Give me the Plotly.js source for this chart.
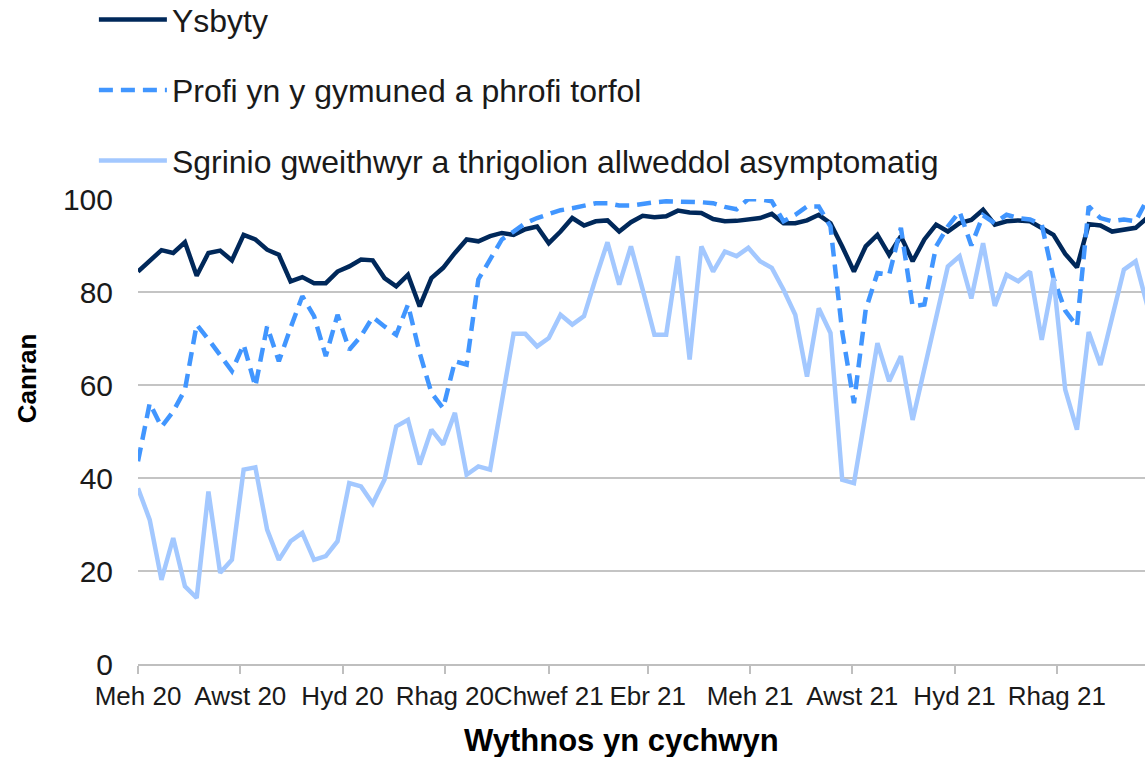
<!DOCTYPE html>
<html><head><meta charset="utf-8">
<script src="https://cdn.plot.ly/plotly-3.0.1.min.js"></script>
<style>html,body{margin:0;padding:0;background:#fff}#chart{width:1145px;height:757px}</style>
</head><body><div id="chart"></div>
<script>
const weeks = [
'2020-06-01','2020-06-08','2020-06-15','2020-06-22','2020-06-29','2020-07-06','2020-07-13','2020-07-20','2020-07-27',
'2020-08-03','2020-08-10','2020-08-17','2020-08-24','2020-08-31','2020-09-07','2020-09-14','2020-09-21','2020-09-28',
'2020-10-05','2020-10-12','2020-10-19','2020-10-26','2020-11-02','2020-11-09','2020-11-16','2020-11-23','2020-11-30',
'2020-12-07','2020-12-14','2020-12-21','2020-12-28','2021-01-04','2021-01-11','2021-01-18','2021-01-25',
'2021-02-01','2021-02-08','2021-02-15','2021-02-22','2021-03-01','2021-03-08','2021-03-15','2021-03-22','2021-03-29',
'2021-04-05','2021-04-12','2021-04-19','2021-04-26','2021-05-03','2021-05-10','2021-05-17','2021-05-24','2021-05-31',
'2021-06-07','2021-06-14','2021-06-21','2021-06-28','2021-07-05','2021-07-12','2021-07-19','2021-07-26',
'2021-08-02','2021-08-09','2021-08-16','2021-08-23','2021-08-30','2021-09-06','2021-09-13','2021-09-20','2021-09-27',
'2021-10-04','2021-10-11','2021-10-18','2021-10-25','2021-11-01','2021-11-08','2021-11-15','2021-11-22','2021-11-29',
'2021-12-06','2021-12-13','2021-12-20','2021-12-27','2022-01-03','2022-01-10','2022-01-17','2022-01-24'];

const tickDates = ['2020-06-01','2020-08-01','2020-10-01','2020-12-01','2021-02-01','2021-04-01','2021-06-01','2021-08-01','2021-10-01','2021-12-01'];
const tickLabels = ['Meh 20','Awst 20','Hyd 20','Rhag 20','Chwef 21','Ebr 21','Meh 21','Awst 21','Hyd 21','Rhag 21'];

const seriesNames = ['Ysbyty','Profi yn y gymuned a phrofi torfol','Sgrinio gweithwyr a thrigolion allweddol asymptomatig'];
const xTitle = 'Wythnos yn cychwyn';
const yTitle = 'Canran';

const ysbyty = [
84.4,86.8,89,88.4,90.7,83.5,88.4,88.9,86.8,92.3,91.3,89.1,88,82.3,83.2,81.9,81.9,84.4,85.5,87,
86.8,83,81.2,83.7,76.9,83,85.2,88.4,91.3,90.9,92,92.7,92.3,93.5,94.1,90.5,93,95.9,94.3,95.2,
95.4,93,95,96.4,96.1,96.3,97.5,97.1,97,95.7,95.2,95.3,95.7,95.9,96.8,94.8,94.8,95.4,96.6,94.8,
89.8,84.4,89.8,92.3,88,92,86.6,91.3,94.5,93,94.8,95.5,97.7,94.5,95.2,95.4,95.2,93.8,92.3,88.2,
85.3,94.6,94.3,93,93.3,93.8,96];

const profi = [
43.6,56.1,51,54.3,59,73,69.8,66.2,63,68.7,59.7,72.6,65.1,72.3,79.1,74.8,66.2,75.1,67.6,70.5,
74.6,72.6,70.8,77.3,66.9,58.3,55,65.1,64.4,82.7,87,91.3,93,94.8,95.9,96.8,97.6,98,98.6,99.1,
99.1,98.6,98.6,99,99.3,99.5,99.5,99.3,99.3,99.1,98.3,97.8,100,99.9,99.5,95.2,96.6,98.4,98.4,94.1,
71.4,56.1,76.2,84.1,83.7,93.8,76.9,77.3,89.8,94.1,97.3,90,96.5,94.8,96.6,95.9,95.6,94.5,83,76,
72.6,98.4,95.9,95.2,95.6,95.2,100];

const sgrinio = [
37.8,31,18.1,27.1,16.7,14.2,37.1,19.6,22.4,41.8,42.3,28.9,22.4,26.4,28.2,22.4,23.2,26.4,38.9,38.2,
34.5,39.6,51.1,52.5,42.9,50.4,47.2,54,40.7,42.5,41.8,56,71,71,68.3,70.1,75.1,73,74.8,83,
90.7,81.6,89.8,80.5,70.8,70.8,87.7,65.5,89.8,84.4,88.7,87.7,89.5,86.6,85.2,80.5,75.1,61.8,76.5,71.2,
39.6,38.9,54,69,60.8,66.2,52.5,63.5,74.8,85.5,87.7,78.6,90.5,77,83.7,82.3,84.4,69.7,83,59,
50.4,71.4,64.3,74.8,84.8,86.6,77];

const FONT = 'Liberation Sans, Arial, sans-serif';

const traces = [
  {x: weeks, y: ysbyty, name: seriesNames[0], type: 'scatter', mode: 'lines', legendgroup: 'a',
   line: {color: '#00285a', width: 4.5}},
  {x: weeks, y: profi, name: seriesNames[1], type: 'scatter', mode: 'lines', legendgroup: 'b',
   line: {color: '#4196ff', width: 4.5, dash: '14px,8px'}},
  {x: weeks, y: sgrinio, name: seriesNames[2], type: 'scatter', mode: 'lines', legendgroup: 'c',
   line: {color: '#a3c8ff', width: 4.5}}
];

const layout = {
  width: 1145, height: 757,
  margin: {l: 138, r: 0, t: 199, b: 93, pad: 0, autoexpand: false},
  paper_bgcolor: '#ffffff', plot_bgcolor: '#ffffff',
  font: {family: FONT, color: '#1a1a1a'},
  showlegend: true,
  legend: {
    xref: 'paper', yref: 'paper',
    x: -0.0438, y: 1.445, xanchor: 'left', yanchor: 'top',
    traceorder: 'grouped', tracegroupgap: 26, itemwidth: 68,
    font: {family: FONT, size: 32, color: '#1a1a1a'},
    bgcolor: 'rgba(0,0,0,0)', borderwidth: 0
  },
  xaxis: {
    type: 'date',
    range: ['2020-06-01', '2022-01-22 14:00'],
    tickmode: 'array', tickvals: tickDates, ticktext: tickLabels,
    ticks: 'outside', ticklen: 8, tickwidth: 1.5, tickcolor: '#bfbfbf',
    showline: true, linecolor: '#bfbfbf', linewidth: 1.5,
    showgrid: false, zeroline: false, automargin: false, tickangle: 0,
    tickfont: {family: FONT, size: 26, color: '#1a1a1a'}
  },
  yaxis: {
    range: [0, 100], tick0: 0, dtick: 20, automargin: false,
    showgrid: true, gridcolor: '#c4c4c4', gridwidth: 1.5,
    zeroline: false, showline: false, ticks: '',
    ticklabelstandoff: 24,
    tickfont: {family: FONT, size: 30, color: '#1a1a1a'}
  },
  annotations: [
    {text: yTitle, textangle: -90, showarrow: false,
     xref: 'paper', yref: 'paper', x: -0.110, y: 0.615,
     xanchor: 'center', yanchor: 'middle',
     font: {family: FONT, size: 26, color: '#000000', weight: 'bold'}},
    {text: xTitle, showarrow: false,
     xref: 'paper', yref: 'paper', x: (621 - 138) / 1007, y: -(740 - 664) / 465,
     xanchor: 'center', yanchor: 'middle',
     font: {family: FONT, size: 31, color: '#000000', weight: 'bold'}}
  ]
};

Plotly.newPlot('chart', traces, layout, {displayModeBar: false, responsive: false});
</script>
</body></html>
